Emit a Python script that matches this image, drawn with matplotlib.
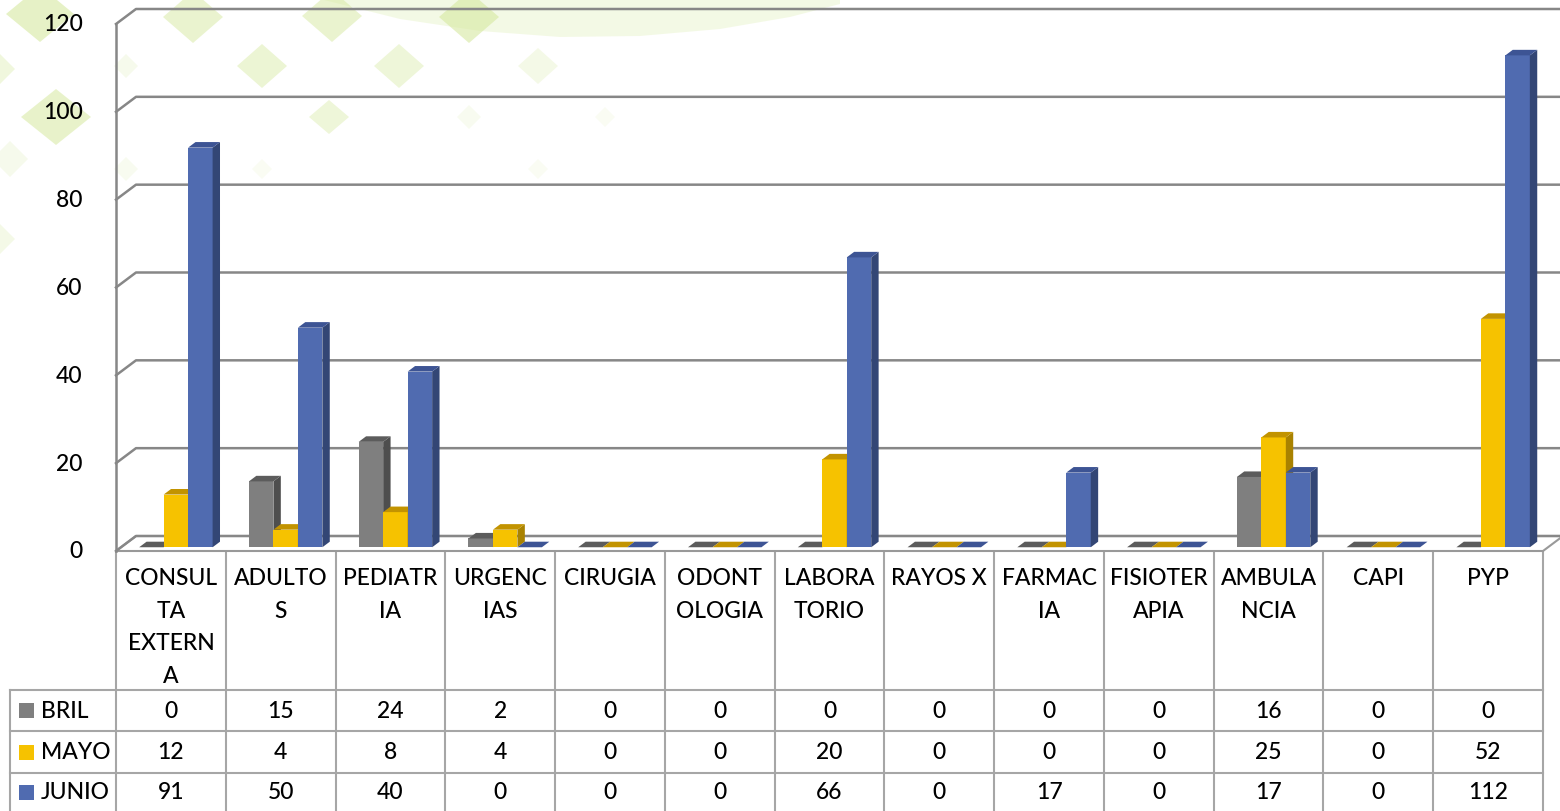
import matplotlib
matplotlib.use('Agg')
import matplotlib.pyplot as plt
import matplotlib.transforms as mtransforms
from matplotlib.patches import Polygon, Rectangle

# ---------------- data ----------------
categories = ["CONSUL\nTA\nEXTERN\nA", "ADULTO\nS", "PEDIATR\nIA", "URGENC\nIAS",
              "CIRUGIA", "ODONT\nOLOGIA", "LABORA\nTORIO", "RAYOS X", "FARMAC\nIA",
              "FISIOTER\nAPIA", "AMBULA\nNCIA", "CAPI", "PYP"]
series_names = ["BRIL", "MAYO", "JUNIO"]
bril = [0, 15, 24, 2, 0, 0, 0, 0, 0, 0, 16, 0, 0]
mayo = [12, 4, 8, 4, 0, 0, 20, 0, 0, 0, 25, 0, 52]
junio = [91, 50, 40, 0, 0, 0, 66, 0, 17, 0, 17, 0, 112]
yticks = [0, 20, 40, 60, 80, 100, 120]

series = [bril, mayo, junio]
front_cols = ["#7F7F7F", "#F6C200", "#506BB0"]
side_cols = ["#4E4E4E", "#A98200", "#334675"]
top_cols = ["#5C5C5C", "#C29300", "#3D5494"]

plt.rcParams['font.family'] = ['Lato', 'DejaVu Sans']
plt.rcParams['font.weight'] = 'medium'
FS = 16.5

W, H = 1560, 812
fig = plt.figure(figsize=(W / 100, H / 100), dpi=100)
fig.patch.set_facecolor('white')

# background (decorative watermark) in pixel coordinates
bg = fig.add_axes([0, 0, 1, 1])
bg.set_xlim(0, W)
bg.set_ylim(H, 0)
bg.axis('off')

sw_x = [320, 400, 480, 560, 640, 720, 790, 840, 840, 320]
sw_y = [0, 20, 32, 38, 37, 30, 18, 5, 0, 0]
bg.add_patch(Polygon(list(zip(sw_x, sw_y)), closed=True, facecolor='#e9f4cc',
                     edgecolor='none', alpha=0.5, zorder=0))
diamonds = [(40, 15, 34, 28, 0.6), (193, 18, 30, 26, 0.5), (332, 17, 30, 26, 0.5),
            (469, 18, 30, 26, 0.6), (262, 67, 25, 22, 0.45), (399, 67, 25, 22, 0.4),
            (538, 67, 20, 18, 0.25), (126, 67, 12, 12, 0.2), (56, 118, 35, 28, 0.55),
            (329, 118, 20, 17, 0.4), (469, 118, 12, 12, 0.15), (605, 118, 10, 10, 0.12),
            (126, 170, 12, 12, 0.15), (262, 170, 10, 10, 0.12), (538, 170, 10, 10, 0.12),
            (0, 70, 15, 15, 0.35), (0, 240, 15, 15, 0.25), (10, 160, 18, 18, 0.2)]
for cx, cy, hw, hh, a in diamonds:
    bg.add_patch(Polygon([(cx - hw, cy), (cx, cy - hh), (cx + hw, cy), (cx, cy + hh)],
                         closed=True, facecolor='#d6e9a0', edgecolor='none',
                         alpha=a, zorder=0))

# ---------------- chart axes ----------------
X0, X1 = 116, 1543
Y0, Y1 = 552, 25
ax = fig.add_axes([X0 / W, (H - Y0) / H, (X1 - X0) / W, (Y0 - Y1) / H])
ax.set_xlim(-0.5, len(categories) - 0.5)
ax.set_ylim(0, 120)
ax.patch.set_alpha(0)
for s in ax.spines.values():
    s.set_visible(False)
ax.set_xticks([])
ax.set_yticks(yticks)
ax.tick_params(axis='y', length=0, pad=24, labelsize=FS)
for lab in ax.get_yticklabels():
    lab.set_verticalalignment('center')
ax.set_zorder(2)

px_per_cat = (X1 - X0) / len(categories)
px_per_unit = (Y0 - Y1) / 120.0
ddx = 20 / px_per_cat
ddy = 15 / px_per_unit
n = len(categories)
grid_col = '#878787'

# floor
ax.add_patch(Polygon([(-0.5, 0), (n - 0.5, 0), (n - 0.5 + ddx, ddy), (-0.5 + ddx, ddy)],
                     closed=True, facecolor='white', edgecolor='#999999', lw=1.5,
                     clip_on=False, zorder=1))
# back wall gridlines + left wall
for v in yticks:
    ax.plot([-0.5, -0.5 + ddx, n - 0.5 + ddx + 1], [v, v + ddy, v + ddy],
            color=grid_col, lw=1.8, clip_on=False, zorder=1.5)
ax.plot([-0.5, -0.5], [0, 120], color=grid_col, lw=1.8, clip_on=False, zorder=1.5)

# bars
bw = 0.223
f0, f1 = 0.25, 0.62
ox, oy = f0 * ddx, f0 * ddy
bx, by = f1 * ddx, f1 * ddy
z = 3
for i in range(n):
    for s, vals in enumerate(series):
        v = vals[i]
        xc = i + (s - 1) * bw
        xl, xr = xc - bw / 2, xc + bw / 2
        if v > 0:
            ax.add_patch(Rectangle((xl + ox, oy), bw, v, facecolor=front_cols[s],
                                   edgecolor='none', clip_on=False, zorder=z))
            ax.add_patch(Polygon([(xr + ox, oy), (xr + bx, by), (xr + bx, v + by), (xr + ox, v + oy)],
                                 closed=True, facecolor=side_cols[s], edgecolor='none',
                                 clip_on=False, zorder=z))
        ax.add_patch(Polygon([(xl + ox, v + oy), (xr + ox, v + oy), (xr + bx, v + by), (xl + bx, v + by)],
                             closed=True, facecolor=top_cols[s], edgecolor='none',
                             clip_on=False, zorder=z))
        z += 0.01

# ---------------- data table ----------------
tcol = '#A6A6A6'
blend = mtransforms.blended_transform_factory(ax.transData, bg.transData)
row_lines = [691, 732, 774, 812]
row_centers = [711.5, 753, 793]
LEFT = 10
for k in range(n + 1):
    bg.plot([k - 0.5, k - 0.5], [552, H], color=tcol, lw=1.5, transform=blend,
            clip_on=False, zorder=1)
bg.plot([LEFT, LEFT], [row_lines[0], H], color=tcol, lw=1.5, zorder=1)
for yl in row_lines[:3]:
    bg.plot([LEFT, X1], [yl, yl], color=tcol, lw=1.5, zorder=1)

for i, name in enumerate(categories):
    bg.text(i, 568, name, transform=blend, ha='center', va='top', fontsize=FS,
            linespacing=1.68, color='black', zorder=5)
for s, vals in enumerate(series):
    yc = row_centers[s]
    bg.add_patch(Rectangle((19, yc - 7.5), 15, 15, facecolor=front_cols[s],
                           edgecolor='none', zorder=5))
    bg.text(41, yc, series_names[s], ha='left', va='center', fontsize=FS, zorder=5)
    for i, v in enumerate(vals):
        bg.text(i, yc, str(v), transform=blend, ha='center', va='center',
                fontsize=FS, zorder=5)

fig.savefig('out.png', dpi=100)
